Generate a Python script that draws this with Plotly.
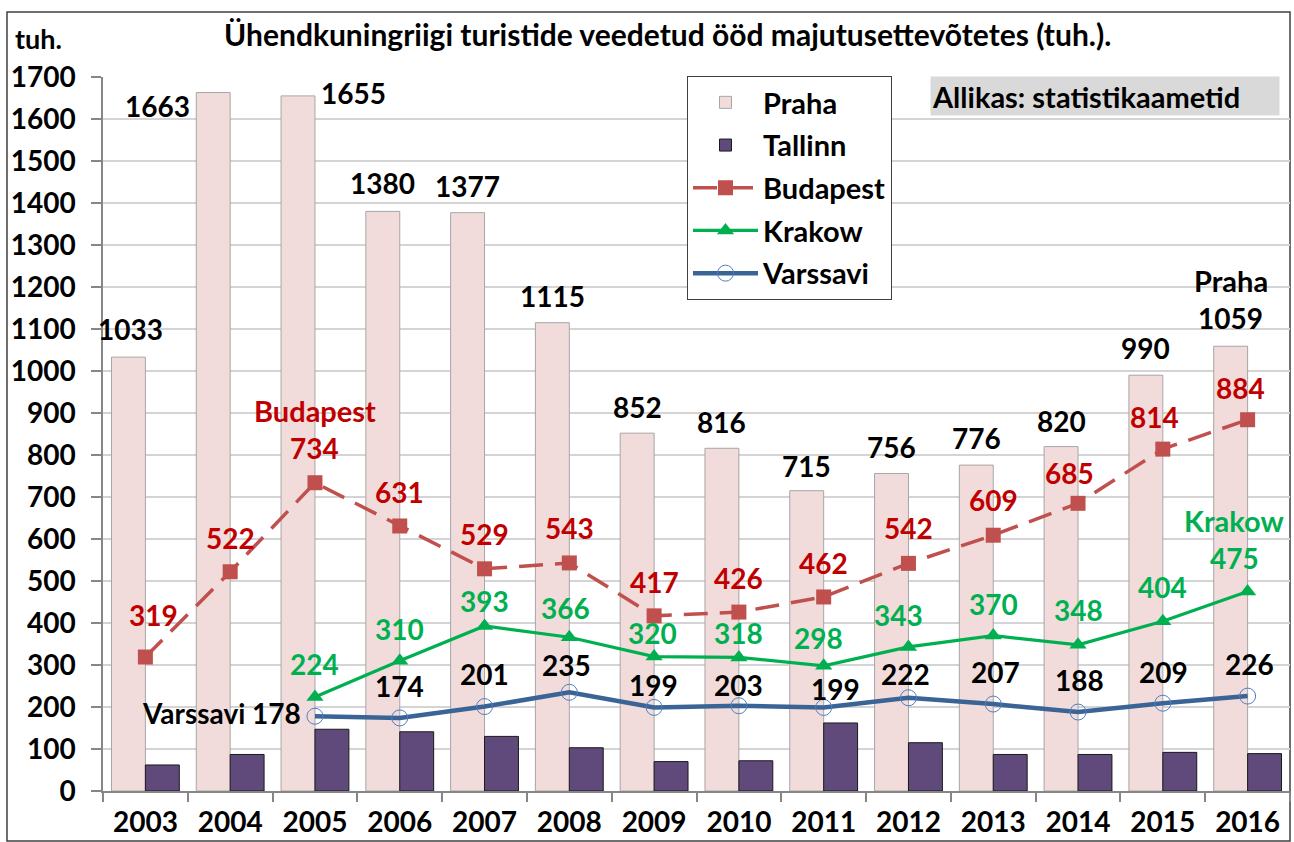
import plotly.graph_objects as go

# ---------------- data ----------------
years = [str(y) for y in range(2003, 2017)]
praha = [1033, 1663, 1655, 1380, 1377, 1115, 852, 816, 715, 756, 776, 820, 990, 1059]
tallinn = [62, 87, 147, 141, 130, 103, 70, 72, 162, 115, 87, 87, 92, 89]
budapest = [319, 522, 734, 631, 529, 543, 417, 426, 462, 542, 609, 685, 814, 884]
krakow = [None, None, 224, 310, 393, 366, 320, 318, 298, 343, 370, 348, 404, 475]
varssavi = [None, None, 178, 174, 201, 235, 199, 203, 199, 222, 207, 188, 209, 226]
y_ticks = list(range(0, 1701, 100))

title_text = "Ühendkuningriigi turistide veedetud ööd majutusettevõtetes (tuh.)."
unit_text = "tuh."
source_text = "Allikas: statistikaametid"

# ---------------- label placement (style, pixels) ----------------
praha_dx = [-15, -73, 39, -17, -17, -17, -17, -17, -17, -17, -17, -17, -17, -17]
praha_dy = [28, -13, 3, 28, 27, 27, 26, 26, 25, 26, 27, 26, 27, 28]
bud_dx = [8, 0, 0, 0, 0, 0, 0, 0, 0, 0, 0, -9, -8, -7]
bud_dy = [42, 34, 35, 34, 35, 35, 34, 34, 34, 35, 35, 30, 32, 32]
kr_dx = [0, 0, 0, 0, 0, -4, -2, 0, -5, -10, 0, 0, 0, -13]
kr_dy = [0, 0, 33, 32, 25, 29, 24, 24, 28, 32, 32, 35, 34, 34]
va_dx = [0, 0, 0, 0, 0, -3, -1, 0, 12, -3, 2, 1, 1, 2]
va_dy = [0, 0, 3, 32, 33, 27, 22, 21, 18, 24, 32, 32, 31, 32]

FONT = "Lato"
FSN = 28   # numbers
FST = 29   # words
W, H = 1294, 842
ML, MR, MT, MB = 103, 4, 77, 51
PW, PH = W - ML - MR, H - MT - MB


def px_x(px):
    return (px - ML) / PW


def px_y(py):
    return (H - MB - py) / PH


fig = go.Figure()
fig.add_trace(go.Bar(
    x=years, y=praha, name="Praha", legendgroup="a",
    marker=dict(color="#F2DCDB", line=dict(color="#A6A6A6", width=1)),
))
fig.add_trace(go.Bar(
    x=years, y=tallinn, name="Tallinn", legendgroup="b",
    marker=dict(color="#604A7B", line=dict(color="#1A1A1A", width=1)),
))
fig.add_trace(go.Scatter(
    x=years, y=budapest, name="Budapest", legendgroup="c", mode="lines+markers",
    line=dict(color="#C0504D", width=3.5, dash="24px,12px"),
    marker=dict(symbol="square", size=15, color="#C0504D"),
))
fig.add_trace(go.Scatter(
    x=years, y=krakow, name="Krakow", legendgroup="d", mode="lines+markers",
    line=dict(color="#00B050", width=3.2),
    marker=dict(symbol="triangle-up", size=15, color="#00B050"),
))
fig.add_trace(go.Scatter(
    x=years, y=varssavi, name="Varssavi", legendgroup="e", mode="lines+markers",
    line=dict(color="#3A6496", width=4.5),
    marker=dict(symbol="circle", size=16, color="rgba(255,255,255,0)",
                line=dict(color="#4F7FC0", width=1)),
))

ann = []


def add_label(i, y, text, color, dx, dy, xanchor="center", size=FSN):
    ann.append(dict(x=i, y=y, xref="x", yref="y", text=text, showarrow=False,
                    xshift=dx, yshift=dy, xanchor=xanchor, yanchor="middle",
                    font=dict(family=FONT, size=size, weight="bold", color=color)))


for i, yr in enumerate(years):
    add_label(i, praha[i], str(praha[i]), "#000000", praha_dx[i], praha_dy[i])
    add_label(i, budapest[i], str(budapest[i]), "#C00000", bud_dx[i], bud_dy[i])
    if krakow[i] is not None:
        add_label(i, krakow[i], str(krakow[i]), "#00B050", kr_dx[i], kr_dy[i])
    if varssavi[i] is not None:
        if i == 2:
            add_label(i, varssavi[i], "Varssavi " + str(varssavi[i]), "#000000", -12, 3, "right")
        else:
            add_label(i, varssavi[i], str(varssavi[i]), "#000000", va_dx[i], va_dy[i])

# series names
add_label(2, budapest[2], "Budapest", "#C00000", 0, 72, size=FST)
add_label(13, krakow[13], "Krakow", "#00B050", -14, 71, size=FST)
add_label(13, praha[13], "Praha", "#000000", -17, 66, size=FST)

# title and unit
ann.append(dict(x=px_x(667), y=px_y(34), xref="paper", yref="paper", text=title_text,
                showarrow=False, xanchor="center", yanchor="middle",
                font=dict(family=FONT, size=30, weight="bold", color="#000000")))
ann.append(dict(x=px_x(38), y=px_y(39), xref="paper", yref="paper", text=unit_text,
                showarrow=False, xanchor="center", yanchor="middle",
                font=dict(family=FONT, size=FST - 2, weight="bold", color="#000000")))
# source box
ann.append(dict(x=px_x(930), y=px_y(76), xref="paper", yref="paper", text=source_text,
                showarrow=False, xanchor="left", yanchor="top", align="left",
                width=346, height=36, bgcolor="#D9D9D9", borderpad=1,
                font=dict(family=FONT, size=FST, weight="bold", color="#000000")))

fig.update_layout(
    width=W, height=H,
    margin=dict(l=ML, r=MR, t=MT, b=MB, autoexpand=False),
    paper_bgcolor="white", plot_bgcolor="white",
    barmode="group", bargap=0.2, bargroupgap=0,
    font=dict(family=FONT, size=FSN, color="#000000"),
    showlegend=True,
    legend=dict(
        x=px_x(687), y=px_y(76), xanchor="left", yanchor="top",
        bgcolor="white", bordercolor="#404040", borderwidth=1,
        font=dict(family=FONT, size=FST, weight="bold", color="#000000"),
        traceorder="grouped", tracegroupgap=2, itemwidth=65,
    ),
    annotations=ann,
    shapes=[dict(type="rect", xref="paper", yref="paper",
                 x0=px_x(7), x1=px_x(1290), y0=px_y(841), y1=px_y(12),
                 line=dict(color="#404040", width=1.5), fillcolor="rgba(0,0,0,0)",
                 layer="below")],
)
fig.update_xaxes(
    type="category", range=[-0.5, 13.5], autorange=False,
    showgrid=False, showline=True, linecolor="#868686", linewidth=1.5,
    ticks="outside", tickson="boundaries", ticklen=9, tickcolor="#868686", tickwidth=1.5,
    tickfont=dict(family=FONT, size=FSN, weight="bold", color="#000000"),
    tickangle=0, ticklabelstandoff=6, zeroline=False, automargin=False,
)
fig.update_yaxes(
    range=[0, 1700], autorange=False, tickvals=y_ticks, ticktext=[str(v) for v in y_ticks],
    showgrid=True, gridcolor="#D4D4D4", gridwidth=1.5,
    showline=True, linecolor="#868686", linewidth=1.5,
    ticks="outside", ticklen=10, tickcolor="#868686", tickwidth=1.5,
    tickfont=dict(family=FONT, size=FSN, weight="bold", color="#000000"),
    ticklabelstandoff=10, zeroline=False, automargin=False,
)

fig.write_html("out.html", config={"displayModeBar": False},
               post_script="document.body.style.margin='0';")
